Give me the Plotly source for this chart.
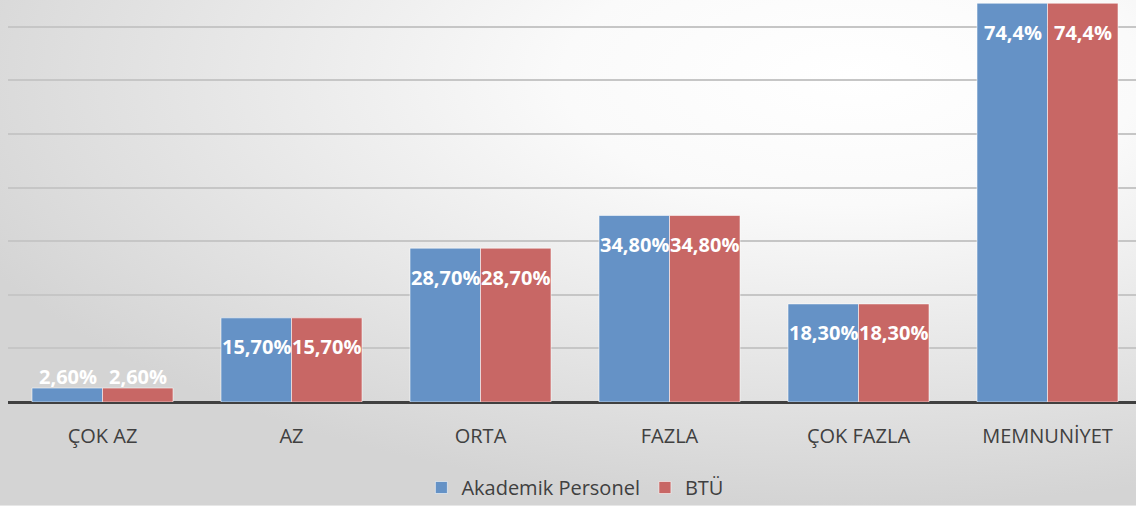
import base64
import plotly.graph_objects as go

categories = ["ÇOK AZ", "AZ", "ORTA", "FAZLA", "ÇOK FAZLA", "MEMNUNİYET"]
akademik = [2.6, 15.7, 28.7, 34.8, 18.3, 74.4]
btu = [2.6, 15.7, 28.7, 34.8, 18.3, 74.4]
akademik_labels = ["2,60%", "15,70%", "28,70%", "34,80%", "18,30%", "74,4%"]
btu_labels = ["2,60%", "15,70%", "28,70%", "34,80%", "18,30%", "74,4%"]
series_names = ["Akademik Personel", "BTÜ"]

BLUE = "#6592C6"
RED = "#C86765"
W, H = 1136, 507
ML, MR, MT, MB = 8, 0, 0, 104

svg = f'''<svg xmlns="http://www.w3.org/2000/svg" width="{W}" height="{H}">
<defs><radialGradient id="g" cx="0.75" cy="0.15" r="0.85" gradientUnits="objectBoundingBox">
<stop offset="0" stop-color="#ffffff"/><stop offset="0.3" stop-color="#fafafa"/><stop offset="1" stop-color="#d4d4d4"/></radialGradient></defs>
<rect width="{W}" height="{H}" fill="url(#g)"/></svg>'''
src = "data:image/svg+xml;base64," + base64.b64encode(svg.encode()).decode()

pw = W - ML - MR
ph = H - MT - MB

fig = go.Figure()
for name, vals, color in [(series_names[0], akademik, BLUE), (series_names[1], btu, RED)]:
    fig.add_trace(go.Bar(
        x=categories, y=vals, name=name,
        marker=dict(color=color, line=dict(color="rgba(255,255,255,0.55)", width=1)),
        hoverinfo="skip",
    ))

px_per_unit = ph / 75.0
for labels, vals, xs in [(akademik_labels, akademik, -35), (btu_labels, btu, 35)]:
    for c, v, t in zip(categories, vals, labels):
        hpx = v * px_per_unit
        ys = -29 if hpx > 40 else 12
        fig.add_annotation(x=c, y=v, text=f"<b>{t}</b>", showarrow=False,
                           xshift=xs, yshift=ys,
                           font=dict(family="Open Sans", size=20, color="white"))

fig.add_layout_image(dict(source=src, xref="paper", yref="paper",
                          x=-ML / pw, y=1 + MT / ph, sizex=W / pw, sizey=H / ph,
                          xanchor="left", yanchor="top", sizing="stretch", layer="below"))

fig.update_layout(
    width=W, height=H,
    margin=dict(l=ML, r=MR, t=MT, b=MB, pad=0),
    paper_bgcolor="rgba(0,0,0,0)", plot_bgcolor="rgba(0,0,0,0)",
    barmode="group", bargap=0.254, bargroupgap=0,
    showlegend=True,
    legend=dict(orientation="h", x=0.503, xanchor="center", y=-0.165, yanchor="top",
                font=dict(family="Open Sans", size=20, color="#404040"),
                bgcolor="rgba(0,0,0,0)", itemwidth=30, traceorder="normal"),
    xaxis=dict(type="category", range=[-0.5, -0.5 + pw / 189.0], showgrid=False,
               zeroline=False, showline=False, ticks="", ticklabelstandoff=20,
               tickfont=dict(family="Open Sans", size=20, color="#404040")),
    yaxis=dict(range=[0, 75], dtick=10, showgrid=True, gridcolor="#c6c6c6", gridwidth=1.5,
               showticklabels=False, zeroline=True, zerolinecolor="#404040", zerolinewidth=3,
               fixedrange=True),
)
fig.write_html("out.html", config={"displayModeBar": False},
               post_script="document.body.style.margin='0';document.body.style.overflow='hidden';")
